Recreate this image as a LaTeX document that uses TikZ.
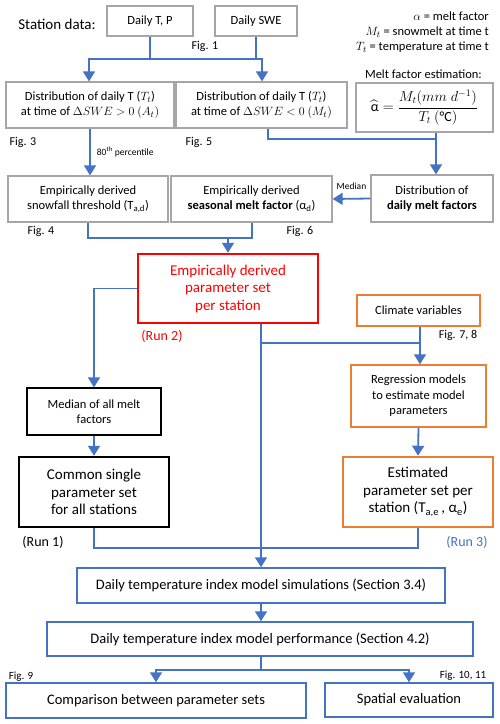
\documentclass[tikz,border=0pt]{standalone}
\usepackage{fontspec}
\usepackage{amsmath}
\setmainfont{Carlito}
\usetikzlibrary{positioning, arrows.meta, calc}
\definecolor{lineblue}{RGB}{68,114,196}
\definecolor{boxgray}{RGB}{166,166,166}
\definecolor{boxorange}{RGB}{237,125,49}

\begin{document}
\begin{tikzpicture}[x=1pt, y=-1pt, inner sep=0pt,
    graybox/.style={draw=boxgray, line width=1.3pt, align=center, font=\fontsize{12.5}{15}\selectfont},
    blackbox/.style={draw=black, line width=1.3pt, align=center, font=\fontsize{12.5}{15}\selectfont},
    orangebox/.style={draw=boxorange, line width=1.5pt, align=center, font=\fontsize{12.5}{15.5}\selectfont},
    bluebox/.style={draw=lineblue, line width=1.5pt, align=center, font=\fontsize{14.5}{17}\selectfont},
    bigtext/.style={align=center, font=\fontsize{15}{17.5}\selectfont},
    fig/.style={font=\fontsize{12}{14}\selectfont},
    small/.style={font=\fontsize{9.5}{11}\selectfont},
    flow/.style={draw=lineblue, line width=1.8pt},
    arr/.style={flow, -{Triangle[width=12pt,length=10pt]}}]

        \useasboundingbox (0,0) rectangle (500,724);

        %STATION DATA
        \node[font=\fontsize{15}{18}\selectfont] (stat) at (57,24) {Station data:};
        \node[graybox, minimum width=86pt, minimum height=30pt] (dT) at (150,21) {Daily T, P};
        \node[graybox, minimum width=82pt, minimum height=30pt] (dS) at (256,21) {Daily SWE};
        \node[fig] at (205,46) {Fig. 1};
        \node[anchor=east, align=right, font=\fontsize{12.5}{15}\selectfont] (legend) at (489,32)
            {$\alpha$ = melt factor\\ $M_t$ = snowmelt at time t\\ $T_t$ = temperature at time t};

        %DISTRIBUTIONS
        \node[graybox, minimum width=168pt, minimum height=46pt] (distA) at (90,105)
            {Distribution of daily T ($T_t$)\\ at time of $\Delta SWE > 0\ (A_t)$};
        \node[graybox, minimum width=171pt, minimum height=46pt] (distM) at (261.5,105)
            {Distribution of daily T ($T_t$)\\ at time of $\Delta SWE < 0\ (M_t)$};
        \node[anchor=east, font=\fontsize{12.5}{15}\selectfont] at (482,74) {Melt factor estimation:};
        \node[graybox, font=\fontsize{14}{16}\selectfont, minimum width=137pt, minimum height=49pt] (form) at (424.5,107.5)
            {$\widehat{\text{α}} = \dfrac{M_t(mm\; d^{-1})}{T_t\ (\text{°C})}$};
        \node[fig] at (23,142) {Fig. 3};
        \node[fig] at (199,142) {Fig. 5};

        %DERIVED PARAMETERS
        \node[graybox, minimum width=160pt, minimum height=46pt] (thr) at (88,199)
            {Empirically derived\\ snowfall threshold (T\textsubscript{a,d})};
        \node[graybox, minimum width=161pt, minimum height=46pt] (mf) at (251.5,199)
            {Empirically derived\\ \textbf{seasonal melt factor} (α\textsubscript{d})};
        \node[graybox, minimum width=122pt, minimum height=47pt] (dmf) at (432,198.5)
            {Distribution of\\ \textbf{daily melt factors}};
        \node[fig] at (41,231) {Fig. 4};
        \node[fig] at (300,231) {Fig. 6};

        %RUNS
        \node[bigtext, draw=red, text=red, line width=2.5pt, minimum width=180pt, minimum height=69pt] (emp) at (228,288.5)
            {Empirically derived\\ parameter set\\ per station};
        \node[text=red, font=\fontsize{14}{16}\selectfont] at (162,336) {(Run 2)};
        \node[orangebox, minimum width=123pt, minimum height=31pt] (clim) at (418.5,310.5) {Climate variables};
        \node[fig] at (458,335) {Fig. 7, 8};
        \node[blackbox, minimum width=134pt, minimum height=47pt] (med) at (94,411.5) {Median of all melt\\ factors};
        \node[orangebox, minimum width=135pt, minimum height=62pt] (regr) at (418.5,396)
            {Regression models\\ to estimate model\\ parameters};
        \node[bigtext, draw=black, line width=2.5pt, minimum width=150pt, minimum height=70pt] (comm) at (94,492)
            {Common single\\ parameter set\\ for all stations};
        \node[bigtext, draw=boxorange, line width=2.5pt, minimum width=150pt, minimum height=70pt] (est) at (418,492)
            {Estimated\\ parameter set per\\ station (T\textsubscript{a,e}\,, α\textsubscript{e})};
        \node[font=\fontsize{14}{16}\selectfont] at (43,542) {(Run 1)};
        \node[text=lineblue, font=\fontsize{14}{16}\selectfont] at (467,542) {(Run 3)};

        %MODEL
        \node[bluebox, minimum width=368pt, minimum height=35pt] (sim) at (261,585.5)
            {Daily temperature index model simulations (Section 3.4)};
        \node[bluebox, minimum width=426pt, minimum height=34pt] (perf) at (260,639)
            {Daily temperature index model performance (Section 4.2)};
        \node[bluebox, minimum width=300pt, minimum height=35pt] (comp) at (156,700.5)
            {Comparison between parameter sets};
        \node[bluebox, minimum width=168pt, minimum height=34pt] (spat) at (409,700) {Spatial evaluation};
        \node[font=\fontsize{11}{13}\selectfont] at (21,677) {Fig. 9};
        \node[font=\fontsize{11}{13}\selectfont] at (463,676) {Fig. 10, 11};

        %CONNECTORS
        \coordinate (b1l) at (89,59);
        \coordinate (b1r) at (262,59);
        \draw[flow] (dT.south) -- (dT.south |- b1l);
        \draw[arr] (dS.south) |- (b1r) -- (b1r |- distM.north);
        \draw[arr] (b1r) -- (b1l) -- (b1l |- distA.north);
        \draw[arr] (distA.south) -- node[small, right=6pt] {80\textsuperscript{th} percentile} (distA.south |- thr.north);

        \coordinate (b2l) at (268,139);
        \coordinate (b2r) at (436,139);
        \draw[flow] (b2l |- distM.south) -- (b2l) -- (b2r);
        \draw[arr] (b2r |- form.south) -- (b2r |- dmf.north);
        \draw[arr] (dmf.west) -- node[small, above=8pt] {Median} (mf.east);

        \coordinate (b3l) at (88,238);
        \coordinate (b3r) at (252,238);
        \draw[flow] (thr.south) -- (b3l) -- (b3r) -- (b3r |- mf.south);
        \draw[arr] (emp.north |- b3l) -- (emp.north);

        \draw[arr] (emp.west) -| (med.north);
        \draw[arr] (med.south) -- (comm.north);
        \draw[arr] (emp.south -| sim.north) -- (sim.north);
        \coordinate (b4) at (420,343);
        \draw[flow] (b4 -| sim.north) -- (b4);
        \draw[arr] (clim.south -| b4) -- (regr.north -| b4);
        \draw[arr] (regr.south) -- (est.north);

        \coordinate (b5l) at (94,548);
        \coordinate (b5r) at (418,548);
        \draw[flow] (comm.south) -- (b5l) -- (b5r) -- (est.south);

        \draw[arr] (sim.south) -- (sim.south |- perf.north);
        \coordinate (b6) at (261,670);
        \draw[flow] (perf.south -| b6) -- (b6);
        \draw[arr] (b6) -| (comp.north);
        \draw[arr] (b6) -| (spat.north);

    \end{tikzpicture}
\end{document}
